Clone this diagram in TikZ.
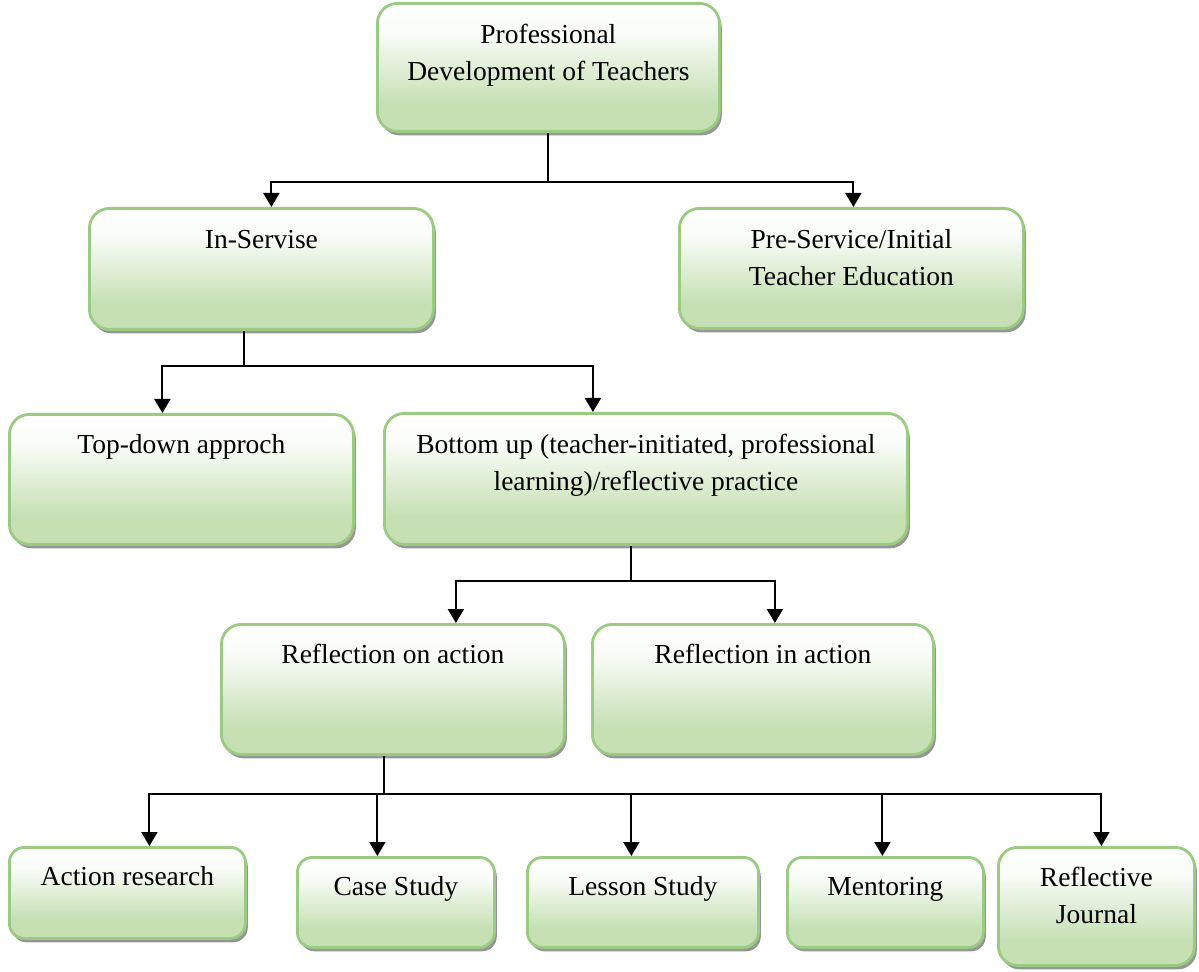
\documentclass[tikz,border=0pt]{standalone}
\usepackage{fontspec}
\setmainfont{Liberation Serif}
\usetikzlibrary{arrows.meta, shadows, calc}

\definecolor{boxedge}{RGB}{155,203,130}
\definecolor{boxfill}{RGB}{198,224,180}
\definecolor{shadowgray}{RGB}{150,150,150}
\pgfdeclareverticalshading{boxgrad}{100bp}{color(0bp)=(boxfill); color(25bp)=(boxfill); color(36bp)=(boxfill); color(64bp)=(boxfill!8!white); color(75bp)=(white); color(100bp)=(white)}

\begin{document}
\begin{tikzpicture}[x=0.5pt, y=-0.5pt,
  box/.style={draw=boxedge, line width=1.4pt, rounded corners=10pt, shade, shading=boxgrad,
    anchor=north west, inner sep=0pt,
    drop shadow={shadow xshift=1.2pt, shadow yshift=-2pt, fill=shadowgray, opacity=1}},
  small/.style={rounded corners=7.5pt},
  txt/.style={anchor=north, align=center, inner sep=0pt,
    font=\fontsize{13.75}{18.5}\selectfont, execute at begin node=\strut},
  line/.style={line width=1pt},
  arr/.style={line width=1pt, -{Triangle[width=8pt,length=7pt]}}]

\useasboundingbox (0,0) rectangle (1199,972);

% boxes
\node[box, minimum width=171pt, minimum height=64pt] (pdt) at (376,2) {};
\node[box, minimum width=172pt, minimum height=60.5pt] (inserv) at (88,207) {};
\node[box, minimum width=172pt, minimum height=60pt] (preserv) at (678,207) {};
\node[box, minimum width=172pt, minimum height=65pt] (topdown) at (8,413) {};
\node[box, minimum width=261.5pt, minimum height=65.5pt] (bottomup) at (383,412) {};
\node[box, minimum width=171.5pt, minimum height=65pt] (refon) at (220,623) {};
\node[box, minimum width=170.5pt, minimum height=65pt] (refin) at (591,623) {};
\node[box, small, minimum width=118pt, minimum height=45.5pt] (actres) at (8,846) {};
\node[box, small, minimum width=98.5pt, minimum height=45pt] (casest) at (296,856) {};
\node[box, small, minimum width=115.5pt, minimum height=45pt] (lessst) at (526,856) {};
\node[box, small, minimum width=98pt, minimum height=45pt] (mentor) at (786,856) {};
\node[box, rounded corners=9.5pt, minimum width=98pt, minimum height=59pt] (refjour) at (997,846) {};

% texts
\node[txt] (pdt-t) at ($(pdt.north)+(0,22)$) {Professional\\Development of Teachers};
\node[txt] (inserv-t) at ($(inserv.north)+(0,15)$) {In-Servise};
\node[txt] (preserv-t) at ($(preserv.north)+(0,22)$) {Pre-Service/Initial\\Teacher Education};
\node[txt] (topdown-t) at ($(topdown.north)+(0,14)$) {Top-down approch};
\node[txt] (bottomup-t) at ($(bottomup.north)+(0,22)$) {Bottom up (teacher-initiated, professional\\learning)/reflective practice};
\node[txt] (refon-t) at ($(refon.north)+(0,14)$) {Reflection on action};
\node[txt] (refin-t) at ($(refin.north)+(0,14)$) {Reflection in action};
\node[txt] (actres-t) at ($(actres.north)+(0,13)$) {Action research};
\node[txt] (casest-t) at ($(casest.north)+(0,13)$) {Case Study};
\node[txt] (lessst-t) at ($(lessst.north)+(0,13)$) {Lesson Study};
\node[txt] (mentor-t) at ($(mentor.north)+(0,13)$) {Mentoring};
\node[txt] (refjour-t) at ($(refjour.north)+(0,21)$) {Reflective\\Journal};

% connectors
\draw[line] (pdt.south) -- ++(0,49) coordinate (j1);
\draw[arr] (j1) -| ($(inserv.north)+(10,0)$);
\draw[arr] (j1) -| ($(preserv.north)+(2,0)$);

\draw[line] ($(inserv.south)+(-17,0)$) -- ++(0,35) coordinate (j2);
\draw[arr] (j2) -| ($(topdown.north)+(-19,0)$);
\draw[arr] (j2) -| ($(bottomup.north)+(-53,0)$);

\draw[line] ($(bottomup.south)+(-14.5,0)$) -- ++(0,35) coordinate (j3);
\draw[arr] (j3) -| ($(refon.north)+(63,0)$);
\draw[arr] (j3) -| ($(refin.north)+(12,0)$);

\draw[line] ($(refon.south)+(-8.5,0)$) -- ++(0,38) coordinate (j4);
\foreach \n/\dx in {actres/22, casest/-18.5, lessst/-11.5, mentor/-3, refjour/5}
  \draw[arr] (j4) -| ($(\n.north)+(\dx,0)$);

\end{tikzpicture}
\end{document}
